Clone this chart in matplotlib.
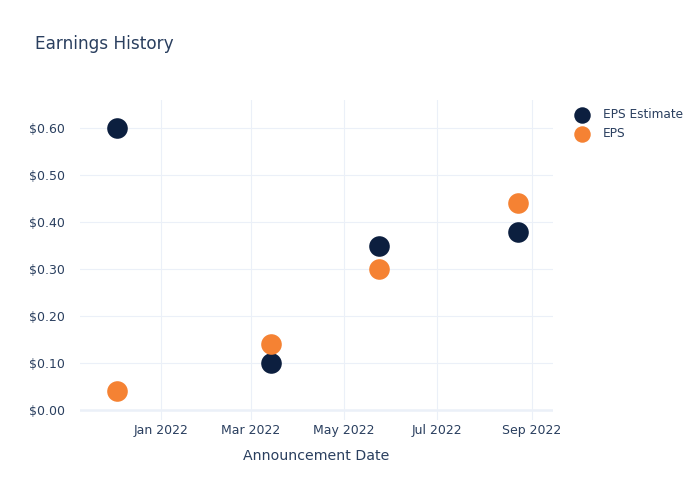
import matplotlib
matplotlib.use("Agg")
import matplotlib.pyplot as plt
import matplotlib.dates as mdates
import numpy as np
from datetime import datetime

dates = ["2021-12-03", "2022-03-14", "2022-05-24", "2022-08-23"]
eps_estimate = [0.60, 0.10, 0.35, 0.38]
eps_actual = [0.04, 0.14, 0.30, 0.44]
tick_dates = ["2022-01-01", "2022-03-01", "2022-05-01", "2022-07-01", "2022-09-01"]
y_ticks = [0.0, 0.1, 0.2, 0.3, 0.4, 0.5, 0.6]

text_color = "#2a3f5f"
grid_color = "#ebf0f8"
navy = "#0c1f3f"
orange = "#f58233"

plt.rcParams['font.family'] = ['DejaVu Sans']

x = [datetime.strptime(d, "%Y-%m-%d") for d in dates]
xt = [datetime.strptime(d, "%Y-%m-%d") for d in tick_dates]

fig = plt.figure(figsize=(7, 5), dpi=100)
ax = fig.add_axes([80/700, 80/500, 473/700, 320/500])

ax.scatter(x, eps_estimate, s=220, color=navy, label="EPS Estimate", zorder=3, linewidths=0)
ax.scatter(x, eps_actual, s=220, color=orange, label="EPS", zorder=4, linewidths=0)

ax.set_xlim(datetime(2021, 11, 9), datetime(2022, 9, 15))
ax.set_ylim(-0.0213, 0.66)

ax.set_xticks(xt)
ax.xaxis.set_major_formatter(mdates.DateFormatter("%b %Y"))
ax.set_yticks(y_ticks)
ax.set_yticklabels([f"${v:.2f}" for v in y_ticks])

for s in ax.spines.values():
    s.set_visible(False)
ax.grid(True, color=grid_color, linewidth=0.8, zorder=0)
ax.axhline(0, color=grid_color, linewidth=1.8, zorder=1)
ax.set_axisbelow(True)

ax.tick_params(axis='both', length=0, colors=text_color, labelsize=9)
ax.tick_params(axis='y', pad=11)
ax.tick_params(axis='x', pad=3)

ax.set_xlabel("Announcement Date", color=text_color, fontsize=10.2)
ax.xaxis.set_label_coords(0.5, -36/320)
ax.xaxis.label.set_va('center')

fig.text(35/700, 1 - 44/500, "Earnings History", color=text_color, fontsize=12.2, va='center', ha='left')

leg = fig.legend(loc='upper left', bbox_to_anchor=(567/700, 1 - 102/500), frameon=False,
                 fontsize=8.7, labelcolor=text_color, markerscale=0.8, handletextpad=0.9,
                 labelspacing=0.52, borderpad=0, handlelength=1.55)

fig.savefig("out.png", dpi=100)
